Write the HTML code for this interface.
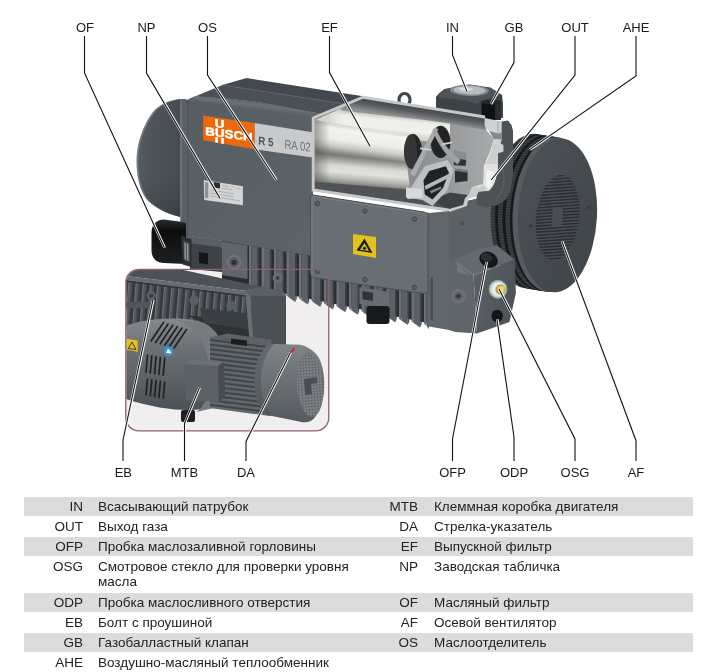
<!DOCTYPE html>
<html><head><meta charset="utf-8">
<style>
html,body{margin:0;padding:0;background:#fff;}
body{width:720px;height:672px;overflow:hidden;position:relative;font-family:"Liberation Sans",sans-serif;}
#fig{position:absolute;left:0;top:0;will-change:transform;}
.lb{font-family:"Liberation Sans",sans-serif;font-size:13px;fill:#1a1a1a;text-anchor:middle;}
.ld{fill:none;stroke:#111;stroke-width:1.1;}
.lw{fill:none;stroke:#fff;stroke-width:2.7;stroke-linecap:butt;}
#tbl{position:absolute;left:0;top:0;width:720px;height:672px;will-change:transform;}
.row{position:absolute;left:24px;width:669px;background:#dcdcdc;}
.k{position:absolute;font-size:13.5px;color:#222;white-space:nowrap;text-align:right;width:60px;}
.d{position:absolute;font-size:13.5px;color:#222;white-space:nowrap;line-height:15px;}
</style></head><body>
<svg id="fig" width="720" height="490" viewBox="0 0 720 490">
<defs>
<linearGradient id="gCap" gradientUnits="userSpaceOnUse" x1="136" y1="0" x2="184" y2="0">
<stop offset="0" stop-color="#565c62"/><stop offset="0.3" stop-color="#4e545a"/><stop offset="0.8" stop-color="#484e53"/><stop offset="1" stop-color="#42484d"/>
</linearGradient>
<linearGradient id="gFront" x1="0" y1="0" x2="1" y2="1">
<stop offset="0" stop-color="#575e63"/><stop offset="1" stop-color="#60676c"/>
</linearGradient>
<linearGradient id="gRim" x1="0" y1="0" x2="1" y2="0">
<stop offset="0" stop-color="#737a7f"/><stop offset="0.25" stop-color="#4a4f54"/>
</linearGradient>
<linearGradient id="gDisc" x1="0" y1="0" x2="1" y2="1">
<stop offset="0" stop-color="#4d5257"/><stop offset="1" stop-color="#3e4347"/>
</linearGradient>
<linearGradient id="gCyl" x1="0" y1="0" x2="0.12" y2="1">
<stop offset="0" stop-color="#b9b9b4"/><stop offset="0.18" stop-color="#f4f4f0"/><stop offset="0.5" stop-color="#e9e9e4"/><stop offset="0.8" stop-color="#b8b8b3"/><stop offset="1" stop-color="#8f908c"/>
</linearGradient>
<linearGradient id="gCyl2" x1="0" y1="0" x2="0.1" y2="1">
<stop offset="0" stop-color="#8f908c"/><stop offset="0.3" stop-color="#d9d9d4"/><stop offset="0.6" stop-color="#cfcfca"/><stop offset="1" stop-color="#8a8b88"/>
</linearGradient>
<linearGradient id="gCeil" gradientUnits="userSpaceOnUse" x1="420" y1="107.5" x2="418.1" y2="119.5">
<stop offset="0" stop-color="#45484a"/><stop offset="0.45" stop-color="#5a5d5f"/><stop offset="1" stop-color="#8f9192"/>
</linearGradient>
<linearGradient id="gBack" x1="0" y1="0" x2="1" y2="0">
<stop offset="0" stop-color="#7a7c7e"/><stop offset="0.6" stop-color="#8d8f90"/><stop offset="1" stop-color="#a8aaab"/>
</linearGradient>
<linearGradient id="gFil" x1="0" y1="0" x2="0" y2="1">
<stop offset="0" stop-color="#2a2c2e"/><stop offset="0.25" stop-color="#0c0d0e"/><stop offset="1" stop-color="#1c1e20"/>
</linearGradient>
<pattern id="pFin" x="0" y="0" width="11.5" height="10" patternUnits="userSpaceOnUse">
<rect x="0" y="0" width="11.5" height="10" fill="#3a3e42"/><rect x="0" y="0" width="4.5" height="10" fill="#62676c"/><rect x="4.5" y="0" width="2" height="10" fill="#4b5055"/>
</pattern>
<pattern id="pGrid" x="0" y="0" width="6" height="3.05" patternUnits="userSpaceOnUse" patternTransform="rotate(-11)">
<rect x="0" y="0" width="6" height="3.05" fill="#484d52"/><rect x="0" y="0" width="6" height="1.5" fill="#2b2f33"/>
</pattern>
<pattern id="pHex" x="0" y="0" width="3.2" height="2.6" patternUnits="userSpaceOnUse">
<rect x="0" y="0" width="3.2" height="2.6" fill="#2d3134"/><rect x="0" y="0" width="3.2" height="1.1" fill="#3f4448"/>
</pattern>
<linearGradient id="gCylUold" x1="0" y1="0" x2="0.1" y2="1">
<stop offset="0" stop-color="#d2d2cd"/><stop offset="0.2" stop-color="#f5f5f1"/><stop offset="0.55" stop-color="#e4e4df"/><stop offset="0.85" stop-color="#b4b4af"/><stop offset="1" stop-color="#999a96"/>
</linearGradient>
<linearGradient id="gCylB" gradientUnits="userSpaceOnUse" x1="381" y1="114" x2="379" y2="134">
<stop offset="0" stop-color="#c4c4bf"/><stop offset="0.25" stop-color="#eeeeea"/><stop offset="0.7" stop-color="#efefeb"/><stop offset="1" stop-color="#d5d5d0"/>
</linearGradient>
<linearGradient id="gCylU" gradientUnits="userSpaceOnUse" x1="362" y1="127.8" x2="358" y2="157.5">
<stop offset="0" stop-color="#d6d6d1"/><stop offset="0.15" stop-color="#f3f3ef"/><stop offset="0.5" stop-color="#ededE9"/><stop offset="0.74" stop-color="#c8c8c3"/><stop offset="0.92" stop-color="#8e8f8a"/><stop offset="1" stop-color="#7c7d79"/>
</linearGradient>
<linearGradient id="gCylL" gradientUnits="userSpaceOnUse" x1="361" y1="157.5" x2="358.5" y2="185.5">
<stop offset="0" stop-color="#7c7d79"/><stop offset="0.12" stop-color="#9a9b96"/><stop offset="0.36" stop-color="#dadad5"/><stop offset="0.58" stop-color="#e2e2dd"/><stop offset="0.82" stop-color="#b3b3ae"/><stop offset="1" stop-color="#7f807c"/>
</linearGradient>
<linearGradient id="gEndSh" gradientUnits="userSpaceOnUse" x1="313" y1="0" x2="330" y2="0">
<stop offset="0" stop-color="#55564f" stop-opacity="0.6"/><stop offset="1" stop-color="#55564f" stop-opacity="0"/>
</linearGradient>
<clipPath id="cLogo"><polygon points="203.1,115.5 254.6,123 254.6,149.2 203.1,140.2"/></clipPath>
<linearGradient id="gCapV" gradientUnits="userSpaceOnUse" x1="150" y1="120" x2="172" y2="217">
<stop offset="0" stop-color="#2b2f33" stop-opacity="0"/><stop offset="0.6" stop-color="#2b2f33" stop-opacity="0.04"/><stop offset="1" stop-color="#2b2f33" stop-opacity="0.42"/>
</linearGradient>
<linearGradient id="gCham" gradientUnits="userSpaceOnUse" x1="250" y1="101" x2="249" y2="109">
<stop offset="0" stop-color="#5d646a"/><stop offset="0.4" stop-color="#697077"/><stop offset="1" stop-color="#5a6065"/>
</linearGradient>
<linearGradient id="gEndSh2" gradientUnits="userSpaceOnUse" x1="313" y1="0" x2="345" y2="0">
<stop offset="0" stop-color="#d2d2cd" stop-opacity="1"/><stop offset="0.5" stop-color="#d6d6d1" stop-opacity="0.9"/><stop offset="1" stop-color="#e4e4e0" stop-opacity="0"/>
</linearGradient>
<linearGradient id="gBlkR" x1="0" y1="0" x2="1" y2="0.3">
<stop offset="0" stop-color="#5b6166"/><stop offset="1" stop-color="#4d5358"/>
</linearGradient>
</defs>

<rect x="125.8" y="269.4" width="203" height="161.4" rx="13" ry="13" fill="#f1eeef"/>

<g id="endface">
<polygon points="449,205 513,190 513,262 449,262" fill="#5c6166"/>
<circle cx="462.4" cy="223" r="2.2" fill="#494e53"/>
</g>
<g id="fan">
<g transform="rotate(3 557 215)">
<ellipse cx="530.5" cy="212.5" rx="40" ry="77.5" fill="url(#pHex)"/>
<ellipse cx="535" cy="213.0" rx="40" ry="77.5" fill="#17191b"/>
<ellipse cx="538" cy="213.3" rx="40" ry="77.5" fill="url(#pHex)"/>
<ellipse cx="542.5" cy="213.8" rx="40" ry="77.5" fill="#17191b"/>
<ellipse cx="545.5" cy="214.1" rx="40" ry="77.5" fill="url(#pHex)"/>
<ellipse cx="550" cy="214.6" rx="40" ry="77.5" fill="#17191b"/>
<ellipse cx="552.6" cy="214.9" rx="40" ry="77.5" fill="#555b60"/>
<ellipse cx="557.4" cy="215.4" rx="39.6" ry="77" fill="url(#gDisc)"/>
<ellipse cx="557.8" cy="217.6" rx="21.5" ry="43" fill="url(#pGrid)" transform="rotate(4 558 217)"/>
<rect x="552.4" y="208" width="10.2" height="18.5" fill="#484d52" transform="rotate(2 558 217)"/>
<circle cx="588.5" cy="206" r="1.8" fill="#373b3f"/><circle cx="531.5" cy="227.5" r="1.8" fill="#373b3f"/>
</g>
</g>
<g id="topstuff">
<!-- eye bolt -->
<ellipse cx="404.5" cy="100" rx="5.5" ry="6.5" fill="none" stroke="#40454a" stroke-width="3.2"/>
<!-- inlet flange -->
<path d="M436,97 L438.9,93.5 L444.4,89 L469.4,84.6 L490.3,87.6 L502,95 L503,104 L503,118 L436,112 Z" fill="#3c4347"/>
<path d="M438.9,94.3 L444.4,89.4 L469.4,85 L490.3,88 L501.5,95.3 L481,100.5 L478,104 L466,100.5 L439,97.5 Z" fill="#4c5458"/>
<ellipse cx="469.4" cy="90.3" rx="19.5" ry="5.6" fill="#7f898b" transform="rotate(2 469 90)"/>
<ellipse cx="469.6" cy="90.2" rx="16" ry="4.3" fill="#b4bcbe" transform="rotate(2 469 90)"/>
<ellipse cx="466" cy="89.3" rx="7" ry="2" fill="#d5dbdc" transform="rotate(2 469 90)"/>
<!-- gas ballast -->
<rect x="481.5" y="102" width="19.5" height="18" fill="#101112"/>
<rect x="495" y="102" width="6" height="18" fill="#2a2c2e"/>
<ellipse cx="491.2" cy="102" rx="9.7" ry="2.3" fill="#232527"/>
</g>
<g id="cap">
<path d="M180.5,99 C172,99 160,104 154,110.8 C146,120 136.5,140 136.5,160.8 C136.5,178 140,190 145.8,198.3 C152,206 165,214 180.2,217 L184,217 L184,99 Z" fill="#747b81"/>
<path d="M180.5,99 C172,99 160,104 154,110.8 C146,120 136.5,140 136.5,160.8 C136.5,178 140,190 145.8,198.3 C152,206 165,214 180.2,217 L184,217 L184,99 Z" fill="url(#gCap)" transform="translate(1.8,0.2)"/>
<path d="M180.5,99 C172,99 160,104 154,110.8 C146,120 136.5,140 136.5,160.8 C136.5,178 140,190 145.8,198.3 C152,206 165,214 180.2,217 L184,217 L184,99 Z" fill="url(#gCapV)"/>
<rect x="180.3" y="99.5" width="8.2" height="141" fill="#596066"/>
<rect x="180.3" y="99.5" width="1.4" height="118" fill="#737a80"/>
<rect x="187.6" y="100" width="1.2" height="136" fill="#3f4449"/>
</g>
<g id="body">
<!-- top faces -->
<polygon points="222.5,85 246.5,78 363,96.2 346.3,104.2" fill="#42484d"/>
<polygon points="189.5,98.8 222.5,85 346.3,104.2 322.2,114.2 260,102.5 230,99 195,96.5" fill="#4a5055"/>
<line x1="222.5" y1="85" x2="346.3" y2="104.2" stroke="#596066" stroke-width="0.9"/>
<!-- front face -->
<polygon points="188.5,99 195,96.3 230,98.8 260,102.3 322.2,114 313,119 313,195 430,213 430,300 311,282 222,262 222,241 188.5,236" fill="url(#gFront)"/>
<polygon points="188.75,99.4 195,96.5 230,99 260,102.5 322.2,114.2 313.2,118.9" fill="url(#gCham)"/>
<!-- logo strip -->
<polygon points="254.4,123 312.5,132.2 312.5,157.6 254.4,149.2" fill="#c9cacb"/>
<polygon points="203.1,115.5 254.6,123 254.6,149.2 203.1,140.2" fill="#e9690c"/>
<g font-family="Liberation Sans,sans-serif" font-weight="bold" fill="#fff" font-size="11.5" stroke="#fff" stroke-width="0.45">
<text transform="translate(205.3,134.9) skewY(7.6)" textLength="47.3" lengthAdjust="spacingAndGlyphs">BUSCH</text>
<g clip-path="url(#cLogo)"><text transform="translate(214.8,126.9) skewY(7.6)" textLength="9.6" lengthAdjust="spacingAndGlyphs">U</text>
<text transform="translate(214.8,145.3) skewY(7.6)" textLength="9.6" lengthAdjust="spacingAndGlyphs">U</text></g>
</g>
<text transform="translate(258.2,144.6) skewY(7)" font-family="Liberation Sans,sans-serif" font-weight="bold" font-size="11.7" fill="#505356" textLength="15.3" lengthAdjust="spacingAndGlyphs">R 5</text>
<text transform="translate(284.4,148.4) skewY(7)" font-family="Liberation Sans,sans-serif" font-size="12.6" fill="#6c6f72" textLength="26.2" lengthAdjust="spacingAndGlyphs">RA 02</text>
<!-- nameplate -->
<polygon points="203.75,179.9 242.9,186.2 242.9,205.3 204.2,199.9" fill="#d3d4d5"/>
<polygon points="205,182 208.3,182.5 208.3,198.3 205,197.8" fill="#8e9092"/>
<polygon points="213.75,182 220,183 220,188.4 213.75,187.4" fill="#2a2c2e"/>
<g stroke="#a4a6a8" stroke-width="0.8"><line x1="222" y1="185.5" x2="229" y2="186.6"/><line x1="231" y1="186.6" x2="234.5" y2="187.2"/><line x1="236.5" y1="188.5" x2="241" y2="189.3"/><line x1="210" y1="190" x2="234" y2="193.8"/><line x1="210" y1="193" x2="234" y2="196.8"/><line x1="210" y1="196" x2="240" y2="200.8"/><line x1="222" y1="188.2" x2="232" y2="189.8"/></g>
</g>
<g id="cut">
<!-- cavity -->
<polygon points="313,118 363,97 485,116 487,131 494,139 490,152 484,166 483.4,184 472,187.5 469,195 465,198 463,206 451,211 313,190.5" fill="url(#gBack)"/>
<!-- ceiling -->
<polygon points="312.5,120.5 363,98 485,118 485,130 425,120 341,110.8 312.5,124" fill="url(#gCeil)"/>
<!-- left inner wall -->
<polygon points="312.5,121.5 341,108.5 341,126 312.5,134" fill="#d2d2cd"/>
<!-- back cylinder -->
<polygon points="330,113.8 341,110.5 425,120 450,123.5 450,144 330,130" fill="url(#gCylB)"/>
<polygon points="312.5,121.5 341,108.5 345,111 345,126 312.5,134" fill="url(#gEndSh2)"/>
<!-- upper cylinder -->
<polygon points="313,119.5 411.7,136.7 407,164 313,151.7" fill="url(#gCylU)"/>
<!-- lower cylinder -->
<polygon points="313,151.7 407,163.5 410,189.5 313,181.7" fill="url(#gCylL)"/>
<!-- left-end shading -->
<polygon points="313,119.5 330,122.5 330,184 313,181.7" fill="url(#gEndSh)"/>
<!-- floor -->
<polygon points="313,181.7 410,189.5 451,205 451,209 313,189" fill="#505355"/>
<!-- floor right -->
<polygon points="410,189.5 432,200 450,192.5 467.5,195 464,206 451,210" fill="#3f4244"/>
<!-- discs -->
<ellipse cx="440.6" cy="141.9" rx="9.8" ry="16.2" fill="#222426"/>
<ellipse cx="413" cy="151.5" rx="9" ry="17.6" fill="#222426"/>
<ellipse cx="410.8" cy="151.5" rx="6.6" ry="17" fill="#333537"/>
<!-- blocks right of bracket -->
<polygon points="453.75,150 466.25,152.5 466.25,160 453.75,158" fill="#8a8c8e"/>
<polygon points="453.75,158 466.25,160 465.5,166 453.75,165" fill="#2f3133"/>
<polygon points="455,168.75 467.5,170.5 467.5,181 455,182.5" fill="#2c2e30"/>
<polygon points="455,168.75 467.5,170.5 467.5,172.5 455,171" fill="#77797b"/>
<!-- arms -->
<polygon points="410,174 434.3,127.8 438.3,129 414.5,176.5" fill="#a9abad"/>
<path d="M435.5,127.5 C440.5,140 448.5,151 460.5,160 L457.5,164.5 C445.5,155.5 437.5,143.5 432.5,130.5 Z" fill="#a0a2a4"/>
<polygon points="420,147.5 431,149 431,150.7 420,149.2" fill="#d0d1d2"/>
<polygon points="442,143.5 452,141.5 452.4,143.2 442.4,145.2" fill="#d0d1d2"/>
<!-- hex bracket -->
<polygon points="411,187.5 425,166 447.5,160 453.75,170 447.5,190 432.5,206 422.5,200 407.5,197.5" fill="#bdbfc0"/>
<polygon points="423.5,180.5 429.3,171 445.8,166.2 449,172.8 443,188 432.5,199.5 424.8,194.5" fill="#202224"/>
<polygon points="424.5,186 450,173.3 451,176.8 425.8,189.8" fill="#b5b7b9"/>
<polygon points="430,191 441,186.5 441.6,188.6 431,193.4" fill="#85878a"/>
<polygon points="406,187.5 422.5,189 422.5,197.5 408,199 406,197" fill="#d8d9da"/>
<!-- end wall section (light) -->
<polygon points="484.6,118 501.6,121.5 501.6,131.8 498.9,133.6 489.1,130.9 484.6,125.5" fill="#cfd1d2"/>
<line x1="498" y1="121" x2="498" y2="133" stroke="#7fb5b0" stroke-width="0.9"/>
<polygon points="489.1,130.9 498.9,133.6 501.6,131.8 501.6,139.8 493.6,138.9" fill="#85888a"/>
<polygon points="493.6,138.9 501.6,139.8 500.7,143.4 503.4,145.2 503.4,151.4 498,153.2 498,163.9 485,163.9 487.3,160.4 490.9,151.4" fill="#cdcfd0"/>
<path d="M485,163.9 L498,163.9 C498,176 495,185 489.1,190.7 L487.3,190.7 C484,187 483,178 485,163.9 Z" fill="#dfe1e1"/>
<path d="M487,170 C485.5,178 486,186 488.5,189.5 C492,185 494.5,178 494.5,172 Z" fill="#f4f6f6"/>
<polygon points="483.4,183.6 480.2,186.3 472.1,187.1 469.5,194.3 465,197.9 463.2,205 450.7,208.6 450.7,211.5 466.8,206 468.6,198.9 476.6,196.2 478.4,191.7 487.3,190.7" fill="#c9cbcc"/>
<!-- rim -->
<polyline points="451,210.5 313.2,190 313.2,118 363,97.2 485,117" fill="none" stroke="#c6c8c9" stroke-width="2.9" stroke-linejoin="miter"/>
</g>
<g id="endflange">
<path d="M501.6,121.5 L508,120.5 L511.5,125 L513,131 L513,176 L510.5,191 L506,199.5 L498,205 L486.9,207.3 L476.9,205 L476.6,196.2 L478.4,191.7 L489.1,190.7 C495,185 498,176 498,163.9 L498,153.2 L503.4,151.4 L503.4,145.2 L500.7,143.4 L501.6,139.8 Z" fill="#4d5257"/>
<path d="M498,164 C506,168 507,188 496,199" fill="none" stroke="#5b6065" stroke-width="1.3"/>
</g>
<g id="lower">
<!-- fins region below body -->
<polygon points="222,241 430,276 430,323.5 222,280.9" fill="#2b2e31"/>
<polygon points="249.0,245.5 251.5,246.0 251.5,289.9 249.0,287.9" fill="#6b7176"/>
<polygon points="251.5,246.0 257.8,247.0 257.8,294.2 251.5,289.9" fill="#5a6065"/>
<polygon points="257.8,247.0 259.2,247.2 259.2,290.5 257.8,294.2" fill="#3d4246"/>
<polygon points="261.5,247.6 264.0,248.1 264.0,292.5 261.5,290.5" fill="#6b7176"/>
<polygon points="264.0,248.1 270.3,249.1 270.3,296.8 264.0,292.5" fill="#5a6065"/>
<polygon points="270.3,249.1 271.7,249.3 271.7,293.1 270.3,296.8" fill="#3d4246"/>
<polygon points="274.0,249.7 276.5,250.2 276.5,295.1 274.0,293.0" fill="#6b7176"/>
<polygon points="276.5,250.2 282.8,251.2 282.8,299.3 276.5,295.1" fill="#5a6065"/>
<polygon points="282.8,251.2 284.2,251.4 284.2,295.6 282.8,299.3" fill="#3d4246"/>
<polygon points="286.5,251.8 289.0,252.3 289.0,297.6 286.5,295.6" fill="#6b7176"/>
<polygon points="289.0,252.3 295.3,253.3 295.3,301.9 289.0,297.6" fill="#5a6065"/>
<polygon points="295.3,253.3 296.7,253.5 296.7,298.2 295.3,301.9" fill="#3d4246"/>
<polygon points="299.0,253.9 301.5,254.4 301.5,300.2 299.0,298.2" fill="#6b7176"/>
<polygon points="301.5,254.4 307.8,255.4 307.8,304.5 301.5,300.2" fill="#5a6065"/>
<polygon points="307.8,255.4 309.2,255.6 309.2,300.8 307.8,304.5" fill="#3d4246"/>
<polygon points="311.5,256.0 314.0,256.5 314.0,302.7 311.5,300.7" fill="#6b7176"/>
<polygon points="314.0,256.5 320.3,257.5 320.3,307.0 314.0,302.7" fill="#5a6065"/>
<polygon points="320.3,257.5 321.7,257.7 321.7,303.3 320.3,307.0" fill="#3d4246"/>
<polygon points="324.0,258.1 326.5,258.6 326.5,305.3 324.0,303.3" fill="#6b7176"/>
<polygon points="326.5,258.6 332.8,259.6 332.8,309.6 326.5,305.3" fill="#5a6065"/>
<polygon points="332.8,259.6 334.2,259.8 334.2,305.9 332.8,309.6" fill="#3d4246"/>
<polygon points="336.5,260.2 339.0,260.7 339.0,307.9 336.5,305.9" fill="#6b7176"/>
<polygon points="339.0,260.7 345.3,261.7 345.3,312.2 339.0,307.9" fill="#5a6065"/>
<polygon points="345.3,261.7 346.7,261.9 346.7,308.4 345.3,312.2" fill="#3d4246"/>
<polygon points="349.0,262.3 351.5,262.8 351.5,310.4 349.0,308.4" fill="#6b7176"/>
<polygon points="351.5,262.8 357.8,263.8 357.8,314.7 351.5,310.4" fill="#5a6065"/>
<polygon points="357.8,263.8 359.2,264.0 359.2,311.0 357.8,314.7" fill="#3d4246"/>
<polygon points="361.5,264.4 364.0,264.9 364.0,313.0 361.5,311.0" fill="#6b7176"/>
<polygon points="364.0,264.9 370.3,265.9 370.3,317.3 364.0,313.0" fill="#5a6065"/>
<polygon points="370.3,265.9 371.7,266.1 371.7,313.6 370.3,317.3" fill="#3d4246"/>
<polygon points="374.0,266.5 376.5,267.0 376.5,315.6 374.0,313.5" fill="#6b7176"/>
<polygon points="376.5,267.0 382.8,268.0 382.8,319.8 376.5,315.6" fill="#5a6065"/>
<polygon points="382.8,268.0 384.2,268.2 384.2,316.1 382.8,319.8" fill="#3d4246"/>
<polygon points="386.5,268.6 389.0,269.1 389.0,318.1 386.5,316.1" fill="#6b7176"/>
<polygon points="389.0,269.1 395.3,270.1 395.3,322.4 389.0,318.1" fill="#5a6065"/>
<polygon points="395.3,270.1 396.7,270.3 396.7,318.7 395.3,322.4" fill="#3d4246"/>
<polygon points="399.0,270.7 401.5,271.2 401.5,320.7 399.0,318.7" fill="#6b7176"/>
<polygon points="401.5,271.2 407.8,272.2 407.8,325.0 401.5,320.7" fill="#5a6065"/>
<polygon points="407.8,272.2 409.2,272.4 409.2,321.3 407.8,325.0" fill="#3d4246"/>
<polygon points="411.5,272.8 414.0,273.3 414.0,323.2 411.5,321.2" fill="#6b7176"/>
<polygon points="414.0,273.3 420.3,274.3 420.3,327.5 414.0,323.2" fill="#5a6065"/>
<polygon points="420.3,274.3 421.7,274.5 421.7,323.8 420.3,327.5" fill="#3d4246"/>
<polygon points="424.0,274.9 426.5,275.4 426.5,325.8 424.0,323.8" fill="#6b7176"/>
<polygon points="426.5,275.4 429.0,275.8 429.0,329.3 426.5,325.8" fill="#5a6065"/>
<polygon points="429.0,275.8 429.0,275.8 429.0,325.3 429.0,329.3" fill="#3d4246"/>
<polygon points="222,241.5 247.5,245.5 247.5,279 222,275" fill="#5f656a"/>
<circle cx="234" cy="262.3" r="7.5" fill="#6c7277"/><circle cx="234" cy="262.3" r="5" fill="#565c61"/><circle cx="234" cy="262.3" r="2.6" fill="#2d3033"/>
<circle cx="277.7" cy="278" r="5" fill="#686e73"/><circle cx="277.7" cy="278" r="2" fill="#3a3e42"/>
<polygon points="188.5,236 222,241 222,272 190,269" fill="#3d4246"/>
<polygon points="188.5,236 222,241 222,247.5 188.5,243" fill="#585e63"/>
<polygon points="199,252 208,253.3 208,264.5 199,263" fill="#141617"/>
<polygon points="359.4,287 387.5,291.5 387.5,308.5 359.4,304" fill="#666c71"/>
<polygon points="362.5,291 373,292.7 373,301 362.5,299.3" fill="#2f3336"/>
<!-- drain plug -->
<rect x="366.5" y="306" width="23" height="18" rx="3" fill="#17191b"/>
<!-- cover plate -->
<path d="M313,195 L424,212 Q428,213 428,217 L428,290 Q428,294 424,293.5 L313.5,277.7 L310.6,274 L310.6,197 Q310.6,195 313,195 Z" fill="#686f74" stroke="#4a4f54" stroke-width="1"/>
<path d="M312,276 L312,197.5 Q312,196.4 313.5,196.5 L424,213.4 Q426.6,214 426.6,217" fill="none" stroke="#7b8287" stroke-width="1"/>
<polygon points="353,234 376,237 376,258 353,254" fill="#e3c21c"/>
<polygon points="364.5,238.5 372.5,253 356.5,250.5" fill="#1c1c1c"/><polygon points="364.5,243 369,251 360,249.7" fill="#e3c21c"/><circle cx="364.5" cy="248.3" r="1.6" fill="#1c1c1c"/>
<g fill="#596065" stroke="#41464a" stroke-width="1"><circle cx="317.5" cy="203.5" r="2.2"/><circle cx="365" cy="211" r="2.2"/><circle cx="414.4" cy="219.2" r="2.2"/><circle cx="317.5" cy="271.5" r="2.2"/><circle cx="365" cy="279.5" r="2.2"/><circle cx="414.4" cy="287.5" r="2.2"/></g>
<!-- body corner band -->
<polygon points="429,213 449,211 449,330 429,326.5" fill="#61666b"/>
<rect x="430.5" y="277" width="2.5" height="43" fill="#474c50"/>
<!-- end block face -->
</g>
<g id="oilblock">
<polygon points="453.5,259.7 480.2,248.5 497,245.2 514.8,259.7 473.5,275.3" fill="#63696e"/>
<polygon points="473.5,275.3 514.8,259.7 515.9,293 509.5,322 477,333.5" fill="url(#gBlkR)"/>
<polygon points="449,261 453.5,259.7 473.5,275.3 477,333.5 455.5,332 449,330" fill="#5f656a"/>
<polygon points="457,263 470,275 457,273" fill="#6f757a"/>
<ellipse cx="488.6" cy="259.7" rx="9.6" ry="7.6" fill="#141618" transform="rotate(28 488.6 259.7)"/>
<ellipse cx="486.5" cy="257.5" rx="6" ry="4.2" fill="#2b2e30" transform="rotate(28 486.5 257.5)"/>
<circle cx="498" cy="289.3" r="9.2" fill="#cfd6d3"/>
<circle cx="498" cy="289.3" r="8.7" fill="none" stroke="#79ab89" stroke-width="1.1"/>
<circle cx="499" cy="289.3" r="7" fill="#e9eceb"/>
<circle cx="500.6" cy="289.6" r="5.1" fill="#bd9a3c"/>
<circle cx="501" cy="289.4" r="3.6" fill="#e8cf78"/>
<ellipse cx="497.2" cy="316" rx="5.7" ry="6.2" fill="#131517"/>
<circle cx="458.4" cy="296.3" r="7.5" fill="#6b7176"/>
<circle cx="458.4" cy="296.3" r="4.6" fill="#5c6267"/>
<circle cx="458.4" cy="296.3" r="2.2" fill="#34383c"/>
</g>
<g id="oilfilter">
<path d="M164,219.5 L181,221.7 L186,223 L186,264 L164,263 C155,262.5 151.5,257 151.5,250 L151.5,233 C151.5,225 156,219.5 164,219.5 Z" fill="url(#gFil)"/>
<polygon points="181,235.5 191.5,239.5 191.5,267 182.5,264.5" fill="#2c2e30"/>
<polygon points="183.5,241 189.5,243 189.5,262 184,260" fill="#55585a"/>
<g stroke="#c9cbcc" stroke-width="0.7"><line x1="185" y1="243" x2="185.3" y2="259"/><line x1="187.6" y1="244" x2="187.9" y2="260.5"/></g>
</g>

<defs>
<clipPath id="cIn"><rect x="126.4" y="270" width="201.8" height="160.2" rx="12.4" ry="12.4"/></clipPath>
<pattern id="pRib" x="0" y="0" width="7.2" height="10" patternUnits="userSpaceOnUse" patternTransform="skewX(-4.6)">
<rect width="7.2" height="10" fill="#363a3e"/><rect x="0" width="1.2" height="10" fill="#6f757a"/><rect x="1.2" width="1.6" height="10" fill="#565c61"/><rect x="2.8" width="1.6" height="10" fill="#464b50"/>
</pattern>
<pattern id="pMot" x="0" y="0" width="10" height="4.6" patternUnits="userSpaceOnUse" patternTransform="rotate(7)">
<rect width="10" height="4.6" fill="#62676c"/><rect y="2.6" width="10" height="2" fill="#3e4347"/>
</pattern>
<pattern id="pMesh" x="0" y="0" width="3" height="3" patternUnits="userSpaceOnUse">
<rect width="3" height="3" fill="#888c90"/><rect x="0.6" y="0.6" width="1.9" height="1.9" fill="#53575b"/>
</pattern>
<linearGradient id="gAd" x1="0" y1="0" x2="0" y2="1">
<stop offset="0" stop-color="#858a8f"/><stop offset="0.3" stop-color="#6d7277"/><stop offset="1" stop-color="#4c5155"/>
</linearGradient>
<linearGradient id="gCov" x1="0" y1="0" x2="0" y2="1">
<stop offset="0" stop-color="#80858a"/><stop offset="0.4" stop-color="#6e7378"/><stop offset="1" stop-color="#555a5f"/>
</linearGradient>
</defs>
<rect x="125.8" y="269.4" width="203" height="161.4" rx="13" ry="13" fill="none" stroke="#8f5f73" stroke-width="1.3"/>
<g clip-path="url(#cIn)">
<!-- casing top face + band -->
<polygon points="126,262 150,262 182.5,269.8 260,286.5 245,290.75 126,275.9" fill="#4c5257"/>
<polygon points="126,275.9 245,290.75 250,295.75 126,280.3" fill="#656b70"/>
<!-- ribbed area -->
<polygon points="126,280.3 250,295.75 253,335 126,330" fill="url(#pRib)"/>
<polygon points="126,280.3 250,295.75 250,297.2 126,281.8" fill="#2f3337"/>
<!-- shadow below ribs -->
<polygon points="186,315 257,324 257,346 214,346 204,323" fill="#2e3235"/>
<polygon points="200,308 253,314 253,330 204,323" fill="#3a3f43"/>
<!-- casing right end -->
<polygon points="250,295.75 245,290.75 260,286.5 284,292 286,296 286,347 253,347" fill="#4b5055"/>
<polygon points="245,290.75 250,295.75 254,347 250,347 246,300" fill="#697075"/>
<polygon points="245,290.75 260,286.5 284,292 286,296 250,295.75" fill="#5a6065"/>
<!-- bosses -->
<circle cx="151.2" cy="295.5" r="4.4" fill="#5f656a"/><circle cx="151.2" cy="295.8" r="2.3" fill="#3a3f43"/>
<circle cx="194" cy="300.5" r="4.8" fill="#596065"/><circle cx="231" cy="305.5" r="4.8" fill="#596065"/>
<!-- left bracket bits -->
<rect x="126" y="302" width="23.5" height="6" fill="#50565b"/>
<!-- motor adapter cylinder -->
<path d="M126,326 C145,318 185,315.5 204,323 C214,328 222,338 224,352 L224,400 C215,412 175,415 126,399 Z" fill="url(#gAd)"/>
<path d="M176,320 C198,326 210,350 210,375 C210,395 204,408 196,412 L214,408 C222,400 226,380 224,352 C222,338 214,328 204,323 Z" fill="#767b80"/>
<!-- slots -->
<g stroke="#1f2225" stroke-width="1.7" stroke-linecap="round">
<line x1="151.0" y1="341.0" x2="163.5" y2="322.5"/><line x1="155.6" y1="342.4" x2="168.1" y2="323.9"/><line x1="160.2" y1="343.8" x2="172.7" y2="325.3"/><line x1="164.8" y1="345.2" x2="177.3" y2="326.7"/><line x1="169.4" y1="346.6" x2="181.9" y2="328.1"/><line x1="174.0" y1="348.0" x2="186.5" y2="329.5"/>
<line x1="147.5" y1="355.0" x2="146.0" y2="372.0"/><line x1="151.8" y1="355.8" x2="150.3" y2="372.8"/><line x1="156.1" y1="356.6" x2="154.6" y2="373.6"/><line x1="160.4" y1="357.4" x2="158.9" y2="374.4"/><line x1="164.7" y1="358.2" x2="163.2" y2="375.2"/>
<line x1="147.5" y1="379.0" x2="146.0" y2="395.0"/><line x1="151.8" y1="379.8" x2="150.3" y2="395.8"/><line x1="156.1" y1="380.6" x2="154.6" y2="396.6"/><line x1="160.4" y1="381.4" x2="158.9" y2="397.4"/><line x1="164.7" y1="382.2" x2="163.2" y2="398.2"/>
</g>
<!-- signs -->
<polygon points="126.5,338.8 137.7,340.6 137.7,351.8 126.5,349.8" fill="#e6c41a"/><polygon points="132,342 136,349.6 128.3,348.5" fill="none" stroke="#2a2a22" stroke-width="0.9"/>
<circle cx="168.5" cy="351" r="4.8" fill="#3b8edb"/><path d="M166,353 L168,348.5 L170,350.5 L171.5,353.5 Z" fill="#fff"/>
<!-- motor body -->
<polygon points="210,337.5 270,345 270,416 210,408" fill="url(#pMot)"/>
<polygon points="210,337.5 228,333.5 272,340 270,345" fill="#5d6267"/>
<polygon points="231,338.5 247,340.5 247,346 231,344" fill="#1a1c1e"/>
<!-- terminal box -->
<polygon points="184,364 218,366 219,402 186,400" fill="#5c6166"/>
<polygon points="184,364 192,360 224,362 218,366" fill="#6b7075"/>
<polygon points="218,366 224,362 225,396 219,402" fill="#474c50"/>
<!-- cable gland -->
<rect x="181" y="410" width="14" height="12" rx="2" fill="#1c1e20"/>
<!-- fan cover -->
<path d="M268.3,343.7 L300.5,344.8 C310,347 317.8,354.4 320,360 C324,370 324.5,380 324.2,388 C323.5,402 319,413 313.5,419 C310,422 306,422.5 302.7,422.3 L266,414.7 C258,405 254,392 254.3,380.3 C254.5,366 260,352 268.3,343.7 Z" fill="url(#gCov)"/>
<path d="M268.3,343.7 C260,352 254.5,366 254.3,380.3 C254,392 258,405 266,414.7 L272,416 C264,405 260.5,392 260.8,380 C261,366 266,352 274,343.9 Z" fill="#4f5459" opacity="0.55"/>
<ellipse cx="310.2" cy="384.6" rx="13.3" ry="32.3" fill="url(#pMesh)" transform="rotate(-4 310.2 384.6)"/>
<path d="M304,379 L317,377 L317.5,383 L311,384 L312,394 L305.5,395 Z" fill="#4a4e52"/>
<line x1="288.5" y1="355.5" x2="294.6" y2="348.4" stroke="#d8232a" stroke-width="2.2"/>
</g>


<g id="leaders">
<g transform="translate(0.25,0)">
<polyline class="lw" points="84.5,36 84.5,73 164.4,247.8"/>
<polyline class="lw" points="146.5,36 146.5,73 220,198.4"/>
<polyline class="lw" points="207.5,36 207.5,75 276.2,180"/>
<polyline class="lw" points="329.5,36 329.5,72.5 370,146.2"/>
<polyline class="lw" points="452.5,36 452.5,55 467,91.6"/>
<polyline class="lw" points="514,36 514,62.5 490.7,104.1"/>
<polyline class="lw" points="575,36 575,75 491.2,180"/>
<polyline class="lw" points="636,36 636,76 529.6,149.6"/>
<polyline class="lw" points="123,461 123,440 153,299.7"/>
<polyline class="lw" points="184.5,461 184.5,423.3 199.4,387.8"/>
<polyline class="lw" points="246,461 246,441.4 290.5,352.5"/>
<polyline class="lw" points="452.5,461 452.5,439 486.4,262"/>
<polyline class="lw" points="514,461 514,437 497,319.3"/>
<polyline class="lw" points="575,461 575,439 499,289"/>
<polyline class="lw" points="636,461 636,440.7 561.9,241.4"/>
</g>
<polyline class="ld" points="84.5,36 84.5,73 164.4,247.8"/>
<polyline class="ld" points="146.5,36 146.5,73 220,198.4"/>
<polyline class="ld" points="207.5,36 207.5,75 276.2,180"/>
<polyline class="ld" points="329.5,36 329.5,72.5 370,146.2"/>
<polyline class="ld" points="452.5,36 452.5,55 467,91.6"/>
<polyline class="ld" points="514,36 514,62.5 490.7,104.1"/>
<polyline class="ld" points="575,36 575,75 491.2,180"/>
<polyline class="ld" points="636,36 636,76 529.6,149.6"/>
<polyline class="ld" points="123,461 123,440 153,299.7"/>
<polyline class="ld" points="184.5,461 184.5,423.3 199.4,387.8"/>
<polyline class="ld" points="246,461 246,441.4 290.5,352.5"/>
<polyline class="ld" points="452.5,461 452.5,439 486.4,262"/>
<polyline class="ld" points="514,461 514,437 497,319.3"/>
<polyline class="ld" points="575,461 575,439 499,289"/>
<polyline class="ld" points="636,461 636,440.7 561.9,241.4"/>
</g>
<g id="labels">
<text class="lb" x="85" y="32">OF</text>
<text class="lb" x="146.5" y="32">NP</text>
<text class="lb" x="207.5" y="32">OS</text>
<text class="lb" x="329.5" y="32">EF</text>
<text class="lb" x="452.5" y="32">IN</text>
<text class="lb" x="514" y="32">GB</text>
<text class="lb" x="575" y="32">OUT</text>
<text class="lb" x="636" y="32">AHE</text>
<text class="lb" x="123.3" y="477">EB</text>
<text class="lb" x="184.5" y="477">MTB</text>
<text class="lb" x="246" y="477">DA</text>
<text class="lb" x="452.5" y="477">OFP</text>
<text class="lb" x="514" y="477">ODP</text>
<text class="lb" x="575" y="477">OSG</text>
<text class="lb" x="636" y="477">AF</text>
</g>
</svg>
<div id="tbl">
<div class="row" style="top:497px;height:19px"></div>
<div class="row" style="top:537px;height:19px"></div>
<div class="row" style="top:593px;height:19px"></div>
<div class="row" style="top:633px;height:19px"></div>
<div class="k" style="left:23px;top:499px">IN</div><div class="d" style="left:98px;top:499px">Всасывающий патрубок</div>
<div class="k" style="left:23px;top:519px">OUT</div><div class="d" style="left:98px;top:519px">Выход газа</div>
<div class="k" style="left:23px;top:539px">OFP</div><div class="d" style="left:98px;top:539px">Пробка маслозаливной горловины</div>
<div class="k" style="left:23px;top:559px">OSG</div><div class="d" style="left:98px;top:559px">Смотровое стекло для проверки уровня<br>масла</div>
<div class="k" style="left:23px;top:595px">ODP</div><div class="d" style="left:98px;top:595px">Пробка маслосливного отверстия</div>
<div class="k" style="left:23px;top:615px">EB</div><div class="d" style="left:98px;top:615px">Болт с проушиной</div>
<div class="k" style="left:23px;top:635px">GB</div><div class="d" style="left:98px;top:635px">Газобалластный клапан</div>
<div class="k" style="left:23px;top:655px">AHE</div><div class="d" style="left:98px;top:655px">Воздушно-масляный теплообменник</div>
<div class="k" style="left:358px;top:499px">MTB</div><div class="d" style="left:434px;top:499px">Клеммная коробка двигателя</div>
<div class="k" style="left:358px;top:519px">DA</div><div class="d" style="left:434px;top:519px">Стрелка-указатель</div>
<div class="k" style="left:358px;top:539px">EF</div><div class="d" style="left:434px;top:539px">Выпускной фильтр</div>
<div class="k" style="left:358px;top:559px">NP</div><div class="d" style="left:434px;top:559px">Заводская табличка</div>
<div class="k" style="left:358px;top:595px">OF</div><div class="d" style="left:434px;top:595px">Масляный фильтр</div>
<div class="k" style="left:358px;top:615px">AF</div><div class="d" style="left:434px;top:615px">Осевой вентилятор</div>
<div class="k" style="left:358px;top:635px">OS</div><div class="d" style="left:434px;top:635px">Маслоотделитель</div>
</div>
</body></html>
